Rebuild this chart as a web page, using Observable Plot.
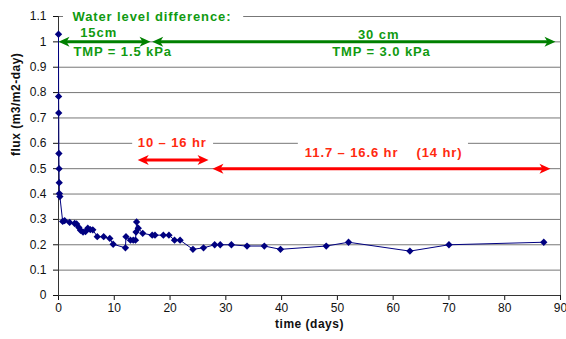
<!DOCTYPE html>
<html><head><meta charset="utf-8">
<script src="https://cdn.jsdelivr.net/npm/d3@7"></script>
<script src="https://cdn.jsdelivr.net/npm/@observablehq/plot@0.6"></script>
<style>
body{margin:0;background:#fff;}
g[fill="#109a10"] text, g[fill="#ff2a10"] text {letter-spacing: 0.9px;}
g[fill="#101010"] text {letter-spacing: 0.5px;}
</style>
</head><body><div id="chart"></div>
<script>
// Measured series
const days = [0, 0.02, 0.04, 0.07, 0.1, 0.13, 0.16, 0.25, 0.75, 1.1, 2.0, 2.9, 3.25, 3.65, 3.95, 4.4, 4.85, 5.25, 5.7, 6.15, 6.95, 8.1, 9.2, 9.8, 12.0, 12.1, 12.9, 13.4, 13.8, 13.9, 14.0, 14.3, 15.1, 16.8, 17.3, 18.8, 19.8, 20.8, 21.8, 24.1, 26.0, 28.0, 29.0, 31.0, 33.8, 36.9, 39.8, 48.0, 52.0, 63.0, 70.0, 87.0];
const flux = [1.03, 0.785, 0.72, 0.56, 0.50, 0.445, 0.402, 0.39, 0.292, 0.295, 0.288, 0.284, 0.282, 0.268, 0.257, 0.25, 0.252, 0.265, 0.26, 0.259, 0.232, 0.232, 0.225, 0.202, 0.188, 0.232, 0.218, 0.218, 0.218, 0.25, 0.29, 0.265, 0.245, 0.238, 0.238, 0.238, 0.238, 0.218, 0.218, 0.182, 0.188, 0.2, 0.2, 0.2, 0.195, 0.195, 0.182, 0.195, 0.21, 0.175, 0.2, 0.21];

// Ticks
const xTicks = [0, 10, 20, 30, 40, 50, 60, 70, 80, 90];
const yTicks = [0, 0.1, 0.2, 0.3, 0.4, 0.5, 0.6, 0.7, 0.8, 0.9, 1, 1.1];
const xTitle = "time (days)";
const yTitle = "flux (m3/m2-day)";

// Annotations (data units)
const greenTitle = "Water level difference:";
const greenTitleX = [2.5];
const greenTitleY = [1.1];
const greenLabels = ["15cm", "TMP = 1.5 kPa", "30 cm", "TMP = 3.0 kPa"];
const greenLabelX = [7.2, 11.5, 57.4, 57.9];
const greenLabelY = [1.036, 0.96, 1.028, 0.96];
const greenArrowFrom = [0, 16.8];
const greenArrowTo = [16.5, 89.1];
const greenArrowY = [1.0, 1.0];

const redLabels = ["10 – 16 hr", "11.7 – 16.6 hr\u00a0\u00a0\u00a0\u00a0(14 hr)"];
const redLabelX = [20.4, 58.3];
const redLabelY = [0.6, 0.561];
const redArrowFrom = [14.2, 27.6];
const redArrowTo = [26.9, 88.2];
const redArrowY = [0.534, 0.5];

const gapFrom = [0.9, 13.3, 43.0];
const gapTo = [33.2, 27.8, 73.5];
const gapY = [1.1, 0.6, 0.6];

// Build tables
const series = days.map((d, i) => ({day: d, flux: flux[i]}));
const arrows = (from, to, y) => from.map((f, i) => ({x1: f, x2: to[i], y: y[i]}));
const greenArrows = arrows(greenArrowFrom, greenArrowTo, greenArrowY);
const redArrows = arrows(redArrowFrom, redArrowTo, redArrowY);
const gaps = gapFrom.map((f, i) => ({x1: f, x2: gapTo[i], y: gapY[i]}));
const greenText = greenLabels.map((t, i) => ({t, x: greenLabelX[i], y: greenLabelY[i]}));
const redText = redLabels.map((t, i) => ({t, x: redLabelX[i], y: redLabelY[i]}));

const headRight = {draw(c) { c.moveTo(0, 0); c.lineTo(-11, -5); c.lineTo(-8, 0); c.lineTo(-11, 5); c.closePath(); }};
const headLeft = {draw(c) { c.moveTo(0, 0); c.lineTo(11, -5); c.lineTo(8, 0); c.lineTo(11, 5); c.closePath(); }};

const GREEN_A = "#008000", GREEN_T = "#109a10", RED_A = "#ff0000", RED_T = "#ff2a10", TITLE = "#101010";
const font = "Arial, 'Liberation Sans', sans-serif";

function doubleArrow(data, color) {
  return [
    Plot.arrow(data, {x1: "x1", x2: "x2", y1: "y", y2: "y", stroke: color, strokeWidth: 3, headLength: 0, insetStart: 7, insetEnd: 7}),
    Plot.dot(data, {x: "x1", y: "y", symbol: headLeft, fill: color, stroke: null}),
    Plot.dot(data, {x: "x2", y: "y", symbol: headRight, fill: color, stroke: null})
  ];
}

const chart = Plot.plot({
  width: 566,
  height: 339,
  marginLeft: 58,
  marginRight: 6,
  marginTop: 16,
  marginBottom: 44,
  style: {fontFamily: font, fontSize: "12px", color: "#111", background: "#fff"},
  x: {domain: [0, 90], ticks: xTicks, tickSize: 5, tickPadding: 3, tickFormat: d => String(d), label: null},
  y: {domain: [0, 1.1], ticks: yTicks, tickSize: 5, tickPadding: 7, tickFormat: d => String(d), label: null},
  marks: [
    Plot.ruleY(yTicks.filter(v => v > 0), {stroke: "#777", strokeWidth: 1}),
    Plot.rect(gaps, {x1: "x1", x2: "x2", y1: d => d.y - 0.03, y2: d => d.y + 0.03, fill: "white"}),
    Plot.ruleX([90], {stroke: "#888"}),
    Plot.ruleX([0], {stroke: "#333"}),
    Plot.ruleY([0], {stroke: "#333"}),
    Plot.line(series, {x: "day", y: "flux", stroke: "#000080", strokeWidth: 1}),
    Plot.dot(series, {x: "day", y: "flux", symbol: "diamond2", r: 3.3, fill: "#000080", stroke: null}),
    ...doubleArrow(greenArrows, GREEN_A),
    ...doubleArrow(redArrows, RED_A),
    Plot.text([greenTitle], {x: greenTitleX, y: greenTitleY, text: d => d, textAnchor: "start", fill: GREEN_T, fontWeight: "bold", fontSize: 13}),
    Plot.text(greenText, {x: "x", y: "y", text: "t", fill: GREEN_T, fontWeight: "bold", fontSize: 13}),
    Plot.text(redText, {x: "x", y: "y", text: "t", fill: RED_T, fontWeight: "bold", fontSize: 13}),
    Plot.text([xTitle], {frameAnchor: "bottom", dy: 32, text: d => d, fontWeight: "bold", fontSize: 12, fill: TITLE}),
    Plot.text([yTitle], {frameAnchor: "left", dx: -42, rotate: -90, text: d => d, fontWeight: "bold", fontSize: 12, fill: TITLE})
  ]
});
document.getElementById("chart").appendChild(chart);
</script>
</body></html>
